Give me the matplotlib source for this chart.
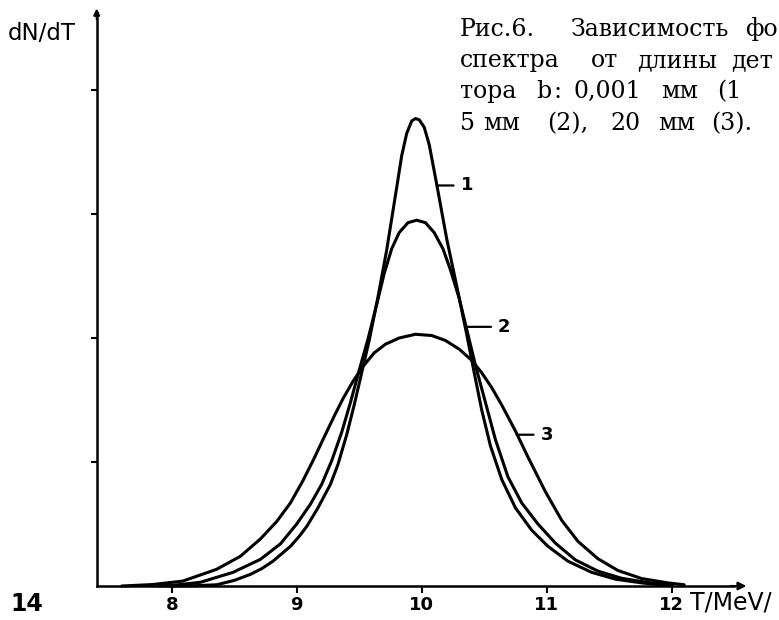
import numpy as np
import matplotlib
matplotlib.use('Agg')
import matplotlib.pyplot as plt

# values: T in MeV, dN/dT in tick units
T1 = [7.95, 8.20, 8.36, 8.50, 8.63, 8.72, 8.81, 8.88, 8.95, 9.02, 9.08, 9.17,
      9.27, 9.33, 9.40, 9.46, 9.52, 9.58, 9.65, 9.72, 9.79, 9.84, 9.88, 9.92,
      9.95, 9.98, 10.02, 10.06, 10.12, 10.20, 10.28, 10.36, 10.42, 10.48,
      10.55, 10.64, 10.75, 10.88, 11.01, 11.17, 11.36, 11.55, 11.76, 11.95]
v1 = [0.0, 0.003, 0.01, 0.045, 0.094, 0.14, 0.20, 0.26, 0.32, 0.40, 0.48, 0.63,
      0.82, 0.98, 1.22, 1.46, 1.72, 1.98, 2.33, 2.71, 3.15, 3.47, 3.65, 3.75,
      3.77, 3.76, 3.70, 3.56, 3.24, 2.80, 2.42, 2.03, 1.72, 1.42,
      1.13, 0.86, 0.63, 0.45, 0.32, 0.20, 0.11, 0.055, 0.025, 0.005]

T2 = [7.90, 8.05, 8.23, 8.49, 8.71, 8.87, 9.00, 9.11, 9.20, 9.28, 9.36, 9.43,
      9.50, 9.57, 9.64, 9.70, 9.76, 9.82, 9.89, 9.96, 10.03, 10.10, 10.17,
      10.23, 10.30, 10.36, 10.43, 10.51, 10.59, 10.69, 10.80, 10.93, 11.07,
      11.23, 11.41, 11.60, 11.81, 12.00]
v2 = [0.0, 0.01, 0.03, 0.11, 0.215, 0.34, 0.50, 0.66, 0.82, 1.01, 1.24, 1.48,
      1.74, 1.99, 2.27, 2.52, 2.72, 2.85, 2.93, 2.95, 2.93, 2.85, 2.72,
      2.55, 2.32, 2.07, 1.78, 1.48, 1.18, 0.88, 0.67, 0.50, 0.345,
      0.21, 0.12, 0.062, 0.028, 0.005]

T3 = [7.60, 7.85, 8.09, 8.36, 8.55, 8.71, 8.84, 8.95, 9.05, 9.13, 9.21, 9.30,
      9.37, 9.45, 9.53, 9.62, 9.71, 9.82, 9.95, 10.08, 10.19, 10.30, 10.40,
      10.48, 10.56, 10.64, 10.75, 10.85, 10.99, 11.12, 11.25, 11.41, 11.57,
      11.76, 11.97, 12.10]
v3 = [0.0, 0.012, 0.04, 0.135, 0.24, 0.38, 0.52, 0.67, 0.85, 1.01, 1.18, 1.37,
      1.51, 1.65, 1.77, 1.88, 1.95, 2.00, 2.03, 2.02, 1.98, 1.91, 1.82,
      1.72, 1.60, 1.46, 1.25, 1.04, 0.76, 0.53, 0.36, 0.22, 0.125,
      0.06, 0.025, 0.01]

xticks = [8, 9, 10, 11, 12]
yticks = [1, 2, 3, 4]

# caption words (cut off at the right edge in the scan), spaced like the letter-spaced print
caption = [
    [("Рис.6.", 460, 'left'), ("Зависимость", 650, 'center'), ("фо", 778, 'right')],
    [("спектра", 460, 'left'), ("от", 605, 'center'), ("длины", 677, 'center'),
     ("дет", 731, 'left')],
    [("тора", 460, 'left'), ("b", 544, 'center'), (":", 557, 'center'),
     ("0,001", 607, 'center'), ("мм", 680, 'center'), ("(1", 717, 'left')],
    [("5", 460, 'left'), ("мм", 502, 'center'), ("(2),", 568, 'center'),
     ("20", 626, 'center'), ("мм", 677, 'center'), ("(3).", 711, 'left')],
]
caption_y = [36, 67, 98, 130]

narrow = ['Liberation Sans Narrow', 'DejaVu Sans']

fig = plt.figure(figsize=(7.79, 6.20), dpi=100)
ax = fig.add_axes([0, 0, 1, 1])
ax.set_xlim(8 - 171.7 / 125, 8 + (779 - 171.7) / 125)
ax.set_ylim(-34 / 124, 586 / 124)
ax.patch.set_alpha(0)

for T, v in [(T1, v1), (T2, v2), (T3, v3)]:
    ax.plot(T, v, color='black', lw=2.2, solid_capstyle='round', solid_joinstyle='round')

# axes as in the scan: L-shaped with arrows
for s in ['top', 'right']:
    ax.spines[s].set_visible(False)
ax.spines['left'].set_position(('data', 7.40))
ax.spines['bottom'].set_position(('data', 0))
ax.spines['left'].set_bounds(0, 4.62)
ax.spines['bottom'].set_bounds(7.40, 12.50)
ax.spines['left'].set_linewidth(1.8)
ax.spines['bottom'].set_linewidth(1.8)
ax.annotate('', xy=(12.62, 0), xytext=(12.45, 0),
            arrowprops=dict(arrowstyle='-|>', color='black', lw=1.5, mutation_scale=12))
ax.annotate('', xy=(7.40, 4.68), xytext=(7.40, 4.55),
            arrowprops=dict(arrowstyle='-|>', color='black', lw=1.5, mutation_scale=9))

ax.set_xticks(xticks)
ax.set_xticklabels([str(t) for t in xticks])
ax.set_yticks(yticks)
ax.set_yticklabels([])
ax.tick_params(axis='x', direction='out', length=5, width=1.5, pad=2, labelsize=13)
ax.tick_params(axis='y', direction='out', length=4.5, width=1.5)
for lbl in ax.get_xticklabels():
    lbl.set_family(narrow)
    lbl.set_fontweight('bold')

# curve labels with leader lines
lab_kw = dict(fontsize=13, fontweight='bold', family=narrow, ha='left', va='center',
              arrowprops=dict(arrowstyle='-', color='black', lw=1.6, shrinkA=3, shrinkB=0))
ax.annotate('1', xy=(10.12, 3.23), xytext=(10.31, 3.23), **lab_kw)
ax.annotate('2', xy=(10.36, 2.09), xytext=(10.61, 2.09), **lab_kw)
ax.annotate('3', xy=(10.76, 1.22), xytext=(10.95, 1.22), **lab_kw)

fig.text(8 / 779, 1 - 33 / 620, 'dN/dT', fontsize=16.5, va='center', ha='left',
         family='DejaVu Sans')
fig.text(690 / 779, 1 - 602 / 620, 'T/MeV/', fontsize=17, va='center', ha='left',
         family=narrow)
fig.text(10 / 779, 1 - 604 / 620, '14', fontsize=17, fontweight='bold', va='center',
         ha='left', family='DejaVu Sans')

for words, yb in zip(caption, caption_y):
    for word, xw, align in words:
        fig.text(xw / 779, 1 - yb / 620, word, fontsize=17, va='baseline', ha=align,
                 family='DejaVu Serif')

fig.savefig('out.png', dpi=100)
